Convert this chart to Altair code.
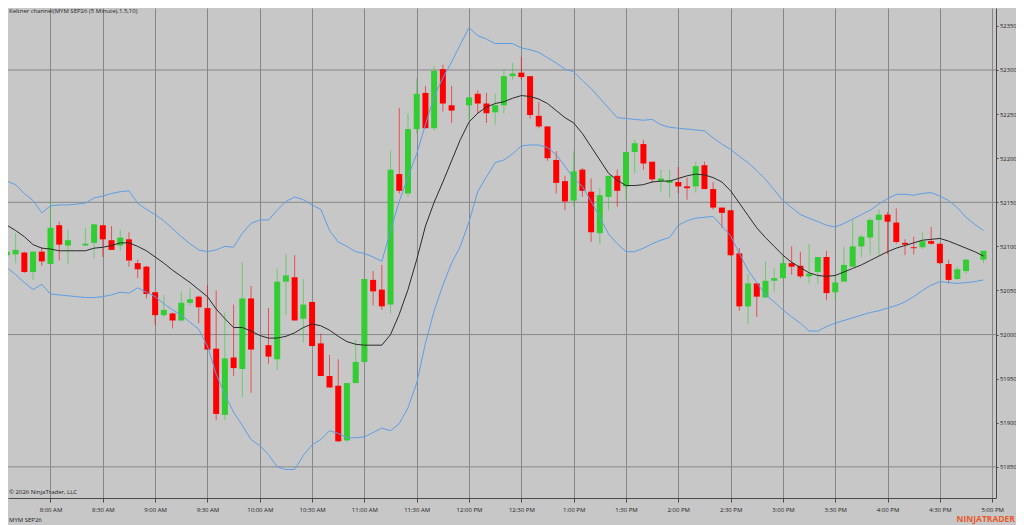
import altair as alt
import pandas as pd

# ---------------- data ----------------
times = [
    "07:35", "07:40", "07:45", "07:50", "07:55",
    "08:00", "08:05", "08:10", "08:15", "08:20", "08:25", "08:30", "08:35", "08:40", "08:45", "08:50", "08:55",
    "09:00", "09:05", "09:10", "09:15", "09:20", "09:25", "09:30", "09:35", "09:40", "09:45", "09:50", "09:55",
    "10:00", "10:05", "10:10", "10:15", "10:20", "10:25", "10:30", "10:35", "10:40", "10:45", "10:50", "10:55",
    "11:00", "11:05", "11:10", "11:15", "11:20", "11:25", "11:30", "11:35", "11:40", "11:45", "11:50", "11:55",
    "12:00", "12:05", "12:10", "12:15", "12:20", "12:25", "12:30", "12:35", "12:40", "12:45", "12:50", "12:55",
    "13:00", "13:05", "13:10", "13:15", "13:20", "13:25", "13:30", "13:35", "13:40", "13:45", "13:50", "13:55",
    "14:00", "14:05", "14:10", "14:15", "14:20", "14:25", "14:30", "14:35", "14:40", "14:45", "14:50", "14:55",
    "15:00", "15:05", "15:10", "15:15", "15:20", "15:25", "15:30", "15:35", "15:40", "15:45", "15:50", "15:55",
    "16:00", "16:05", "16:10", "16:15", "16:20", "16:25", "16:30", "16:35", "16:40", "16:45", "16:50", "16:55",
]

opens = [
    52090, 52091, 52093, 52071, 52094, 52080, 52124, 52101, None, 52101,
    52104, 52124, 52107, 52101, 52108, 52081, 52077, 52048, 52022, 52024,
    52016, 52036, 52043, 52030, 51984, 51909, 51974, 51961, 52041, None,
    51988, 51972, 52060, 52065, 52018, 52037, 51990, 51953, 51942, 51880,
    51945, 51969, 52062, 52051, 52034, 52182, 52160, 52233, 52274, 52234,
    52301, 52260, None, 52260, 52273, 52262, 52252, 52260, 52293, 52297,
    52293, 52248, 52236, 52198, 52174, 52152, 52187, 52162, 52115, 52156,
    52180, 52168, 52207, 52216, 52196, 52174, 52172, 52173, 52168, 52168,
    52192, 52165, 52144, 52141, 52092, 52032, 52058, 52042, 52061, 52064,
    52081, 52078, 52066, 52071, 52088, 52048, 52060, 52077, 52100, 52110,
    52130, 52136, 52127, 52104, 52099, 52099, 52106, 52103, 52080, 52063,
    52072, None, 52085,
]
highs = [
    52099, 52115, 52094, 52095, 52099, 52151, 52128, 52119, None, 52121,
    52125, 52124, 52123, 52119, 52116, 52085, 52078, 52048, 52045, 52025,
    52049, 52052, 52044, 52056, 52050, 52025, 52034, 52082, 52055, None,
    52030, 52075, 52091, 52090, 52063, 52037, 52001, 51977, 51972, 51945,
    51994, 52063, 52072, 52079, 52209, 52257, 52251, 52290, 52282, 52304,
    52306, 52282, None, 52269, 52277, 52274, 52273, 52300, 52308, 52315,
    52293, 52264, 52236, 52208, 52180, 52208, 52189, 52177, 52166, 52180,
    52187, 52207, 52221, 52221, 52196, 52187, 52187, 52190, 52178, 52196,
    52196, 52173, 52144, 52141, 52098, 52069, 52058, 52083, 52075, 52090,
    52100, 52094, 52103, 52088, 52095, 52069, 52100, 52130, 52113, 52132,
    52142, 52139, 52143, 52108, 52111, 52116, 52122, 52103, 52085, 52077,
    52085, None, 52095,
]
lows = [
    52084, 52081, 52070, 52062, 52078, 52079, 52084, 52080, None, 52101,
    52087, 52088, 52096, 52095, 52077, 52064, 52041, 52011, 52020, 52007,
    52015, 52033, 52013, 51983, 51903, 51903, 51953, 51929, 51934, None,
    51967, 51960, 52022, 52016, 51991, 51987, 51953, 51940, 51878, 51878,
    51945, 51969, 52033, 52028, 52024, 52160, 52156, 52228, 52234, 52231,
    52253, 52240, None, 52244, 52251, 52240, 52238, 52251, 52289, 52289,
    52245, 52234, 52197, 52160, 52141, 52145, 52156, 52105, 52103, 52141,
    52145, 52153, 52183, 52187, 52172, 52162, 52155, 52160, 52153, 52161,
    52165, 52142, 52121, 52089, 52027, 52012, 52020, 52042, 52049, 52064,
    52068, 52064, 52058, 52057, 52039, 52039, 52060, 52077, 52088, 52090,
    52090, 52091, 52103, 52090, 52091, 52097, 52102, 52080, 52058, 52062,
    52069, None, 52081,
]
closes = [
    52094, 52096, 52071, 52094, 52083, 52121, 52102, 52107, None, 52103,
    52125, 52108, 52096, 52110, 52084, 52074, 52046, 52022, 52028, 52016,
    52036, 52040, 52031, 51983, 51910, 51973, 51962, 52041, 51983, None,
    51975, 52060, 52067, 52016, 52034, 51987, 51953, 51940, 51879, 51945,
    51969, 52063, 52049, 52032, 52187, 52163, 52233, 52273, 52234, 52299,
    52262, 52254, None, 52269, 52262, 52251, 52260, 52293, 52296, 52292,
    52249, 52236, 52200, 52172, 52151, 52185, 52163, 52116, 52158, 52180,
    52163, 52207, 52217, 52194, 52176, 52177, 52175, 52168, 52166, 52191,
    52165, 52144, 52138, 52090, 52032, 52058, 52043, 52061, 52064, 52081,
    52077, 52066, 52069, 52088, 52047, 52059, 52079, 52100, 52111, 52130,
    52136, 52128, 52105, 52102, 52098, 52106, 52103, 52081, 52062, 52074,
    52085, None, 52095,
]

keltner_mid = [
    52124, 52118, 52111, 52102, 52098, 52097, 52095, 52095, 52095, 52095,
    52098, 52099, 52101, 52104, 52104, 52100, 52095, 52088, 52081, 52073,
    52066, 52059, 52051, 52043, 52029, 52018, 52008, 52008, 52004, 51999,
    51996, 51996, 51998, 52002, 52008, 52012, 52010, 52005, 51998, 51992,
    51989, 51988, 51988, 51988, 52000, 52023, 52051, 52085, 52123, 52150,
    52173, 52197, 52221, 52241, 52251, 52258, 52262, 52264, 52268, 52271,
    52270, 52267, 52262, 52254, 52246, 52240, 52228, 52213, 52198, 52183,
    52175, 52169, 52169, 52170, 52173, 52174, 52174, 52177, 52180, 52182,
    52181, 52178, 52173, 52163, 52149, 52135, 52121, 52110, 52100, 52090,
    52082, 52076, 52070, 52067, 52066, 52067, 52071, 52075, 52079, 52084,
    52089, 52094, 52098, 52101, 52104, 52107, 52108, 52109, 52106, 52102,
    52098, 52094, 52089,
]
keltner_upper = [
    52174, 52170, 52160, 52152, 52138, 52146, 52147, 52147, 52148, 52149,
    52155, 52157, 52160, 52162, 52163, 52149, 52142, 52136, 52129, 52120,
    52111, 52103, 52096, 52094, 52096, 52100, 52099, 52115, 52126, 52130,
    52130, 52141, 52151, 52156, 52153, 52147, 52142, 52118, 52105, 52100,
    52094, 52092, 52088, 52083, 52118, 52151, 52179, 52205, 52238, 52270,
    52291, 52309, 52329, 52348, 52339, 52335, 52330, 52330, 52330, 52325,
    52323, 52320, 52314, 52308, 52301, 52298, 52288, 52279, 52268, 52257,
    52246, 52245, 52244, 52243, 52244, 52238, 52235, 52234, 52233, 52232,
    52231, 52223, 52216, 52210, 52202, 52195, 52186, 52176, 52164, 52152,
    52144, 52136, 52132, 52128, 52124, 52122, 52126, 52131, 52136, 52141,
    52148, 52154, 52159, 52159, 52158, 52160, 52161, 52157, 52152, 52144,
    52133, 52125, 52118,
]
keltner_lower = [
    52076, 52068, 52059, 52051, 52057, 52046, 52045, 52044, 52043, 52042,
    52042, 52043, 52045, 52048, 52047, 52053, 52048, 52043, 52035, 52028,
    52022, 52014, 52006, 51987, 51955, 51932, 51912, 51897, 51881, 51874,
    51864, 51850, 51847, 51847, 51863, 51875, 51881, 51891, 51888, 51883,
    51883, 51884, 51889, 51894, 51891, 51899, 51917, 51945, 51990, 52027,
    52056, 52081, 52100, 52128, 52162, 52179, 52195, 52198, 52205, 52214,
    52215, 52215, 52212, 52204, 52191, 52177, 52168, 52151, 52133, 52114,
    52103, 52094, 52094, 52098, 52103, 52107, 52110, 52124, 52129, 52132,
    52133, 52134, 52123, 52112, 52092, 52073, 52059, 52045, 52037, 52028,
    52020, 52013, 52004, 52004, 52009, 52013, 52016, 52019, 52022, 52025,
    52027, 52030, 52033, 52037, 52043, 52050, 52056, 52060, 52059, 52058,
    52059, 52060, 52062,
]

x_tick_times = ["08:00", "08:30", "09:00", "09:30", "10:00", "10:30", "11:00", "11:30",
                "12:00", "12:30", "13:00", "13:30", "14:00", "14:30", "15:00", "15:30",
                "16:00", "16:30", "17:00"]
y_tick_values = [51850, 51900, 51950, 52000, 52050, 52100, 52150, 52200, 52250, 52300, 52350]
y_grid_values = [51850, 52000, 52150, 52300]

title_text = "Keltner channel(MYM SEP26 (5 Minute),1.5,10)"
copyright_text = "\u00a9 2026 NinjaTrader, LLC"
instrument_text = "MYM SEP26"
logo_text = "NINJATRADER"

# ---------------- styling ----------------
BG = "#c7c7c7"
GRID = "#878787"
AXIS = "#4a4a4a"
TXT = "#1e1e1e"
UP = "#32cd32"
DOWN = "#ff0000"
BAND = "#5e9ee6"
MID = "#2b2b2b"
FONT = "Open Sans"


def to_min(t):
    h, m = t.split(":")
    return int(h) * 60 + int(m)


df = pd.DataFrame({
    "m": [to_min(t) for t in times],
    "o": opens, "h": highs, "l": lows, "c": closes,
    "mid": keltner_mid, "up": keltner_upper, "lo": keltner_lower,
})

PLOT_W = 988
PLOT_H = 490
xs = alt.Scale(domain=[455.63, 1022.18], nice=False, zero=False, padding=0)
ys = alt.Scale(domain=[51814.7, 52370.3], nice=False, zero=False, padding=0)

label_expr = ("(floor(datum.value/60)%12==0?12:floor(datum.value/60)%12)+':'+"
              "(datum.value%60<10?'0':'')+(datum.value%60)+(datum.value<720?' AM':' PM')")

x_axis = alt.Axis(values=[to_min(t) for t in x_tick_times], labelExpr=label_expr,
                  grid=True, gridColor=GRID, gridWidth=1, gridOpacity=1,
                  tickSize=4, tickColor=AXIS, domainColor=AXIS, domainWidth=1,
                  labelFontSize=6, labelFont=FONT, labelColor=TXT, labelPadding=4,
                  labelFlush=False, labelOverlap=False, title=None)
y_axis = alt.Axis(orient="right", values=y_tick_values, format="d", grid=False,
                  tickSize=2, tickColor=AXIS, domainColor=AXIS, domainWidth=1,
                  labelFontSize=5.8, labelFont=FONT, labelColor=TXT, labelPadding=1.5,
                  labelFlush=False, labelOverlap=False, title=None)


def X(field):
    return alt.X(field, scale=xs, axis=x_axis)


def Y(field):
    return alt.Y(field, scale=ys, axis=y_axis)


color_cond = alt.condition("datum.c >= datum.o", alt.value(UP), alt.value(DOWN))

hgrid = alt.Chart(pd.DataFrame({"g": y_grid_values})).mark_rule(
    color=GRID, strokeWidth=1
).encode(y=Y("g:Q"))

base = alt.Chart(df)

wicks = base.transform_filter("isValid(datum.o)").mark_rule(
    strokeWidth=1, opacity=0.6
).encode(x=X("m:Q"), y=Y("l:Q"), y2="h:Q", color=color_cond)

bodies = base.transform_filter("isValid(datum.o)").mark_bar(size=6).encode(
    x=X("m:Q"), y=Y("o:Q"), y2="c:Q", color=color_cond)

upper = base.mark_line(color=BAND, strokeWidth=1).encode(x=X("m:Q"), y=Y("up:Q"))
lower = base.mark_line(color=BAND, strokeWidth=1).encode(x=X("m:Q"), y=Y("lo:Q"))
middle = base.mark_line(color=MID, strokeWidth=1).encode(x=X("m:Q"), y=Y("mid:Q"))


def label(text, x, y, align="left", baseline="top", size=6, color=TXT, weight="normal"):
    return alt.Chart(pd.DataFrame({"t": [text]})).mark_text(
        align=align, baseline=baseline, fontSize=size, font=FONT, color=color,
        fontWeight=weight
    ).encode(x=alt.value(x), y=alt.value(y), text="t:N")


title_lbl = label(title_text, 1, 0)
copy_lbl = label(copyright_text, 1, 484, baseline="middle")
inst_lbl = label(instrument_text, 1, 512, baseline="middle")
logo_lbl = label(logo_text, 1007, 511, align="right", baseline="middle", size=8.5,
                 color="#e85a2c", weight="bold")

chart = alt.layer(
    hgrid, wicks, bodies, upper, lower, middle,
    title_lbl, copy_lbl, inst_lbl, logo_lbl,
).properties(
    width=PLOT_W, height=PLOT_H,
    padding={"left": 0, "top": 0, "right": 1008 - PLOT_W, "bottom": 27},
    autosize=alt.AutoSizeParams(type="none"),
    background=BG,
).configure_view(stroke=None, fill=BG)

chart.save("out.html", embed_options={"renderer": "svg", "actions": False})
